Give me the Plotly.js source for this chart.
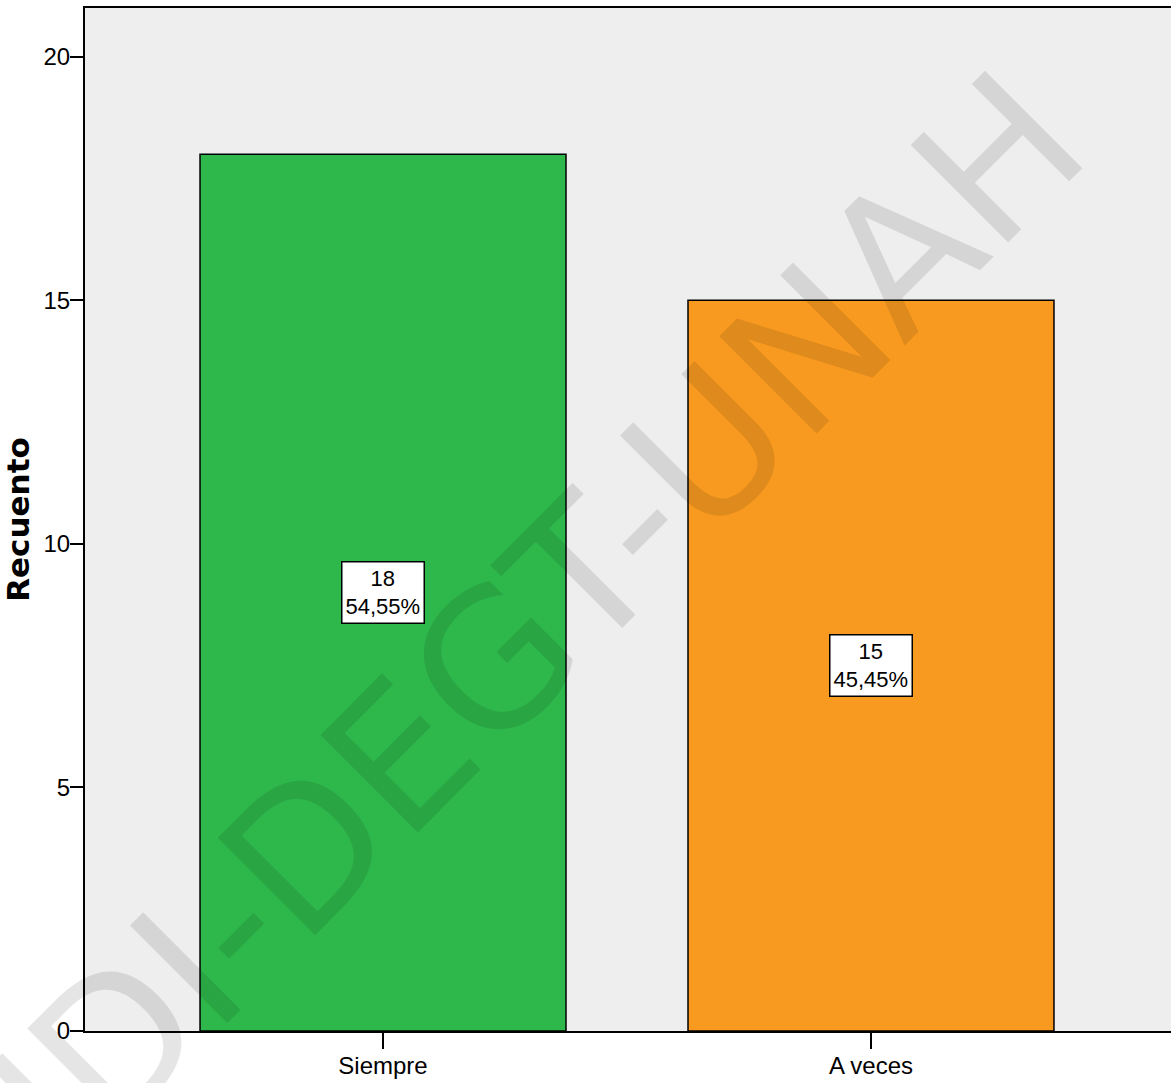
<!DOCTYPE html>
<html>
<head>
<meta charset="utf-8">
<script src="https://cdn.plot.ly/plotly-3.0.1.min.js"></script>
<style>html,body{margin:0;padding:0;background:#fff;}#chart{width:1171px;height:1083px;}</style>
</head>
<body>
<div id="chart"></div>
<script>
const categories = ["Siempre", "A veces"];
const counts = [18, 15];
const percentLabels = ["54,55%", "45,45%"];
const barColors = ["#2eb84b", "#f99a20"];
const yTicks = [0, 5, 10, 15, 20];
const watermarkText = "UDI-DEGT-UNAH";

const narrow = "'Liberation Sans Narrow', 'Arial Narrow', 'Liberation Sans', Arial, sans-serif";

const trace = {
  type: "bar",
  x: categories,
  y: counts,
  marker: { color: barColors, line: { color: "#000", width: 1.5 } },
  hoverinfo: "skip",
  showlegend: false
};

const annotations = categories.map((c, i) => ({
  x: c, y: counts[i] / 2, xref: "x", yref: "y",
  text: counts[i] + "<br>" + percentLabels[i],
  showarrow: false,
  bgcolor: "#ffffff", bordercolor: "#000", borderwidth: 1.5, borderpad: 3,
  font: { family: narrow, size: 22, color: "#000" },
  align: "center"
}));

annotations.push({
  x: 0.39, y: 0.372, xref: "paper", yref: "paper",
  text: watermarkText, showarrow: false, textangle: -45,
  xanchor: "center", yanchor: "middle",
  font: { family: "DejaVu Sans", size: 189, color: "rgba(0,0,0,0.1)" }
});

const layout = {
  width: 1171, height: 1083,
  margin: { l: 85, r: 0, t: 8, b: 52 },
  paper_bgcolor: "#ffffff",
  plot_bgcolor: "#eeeeee",
  bargap: 0.25,
  xaxis: {
    type: "category",
    range: [-0.6107, 1.6148],
    showline: true, linecolor: "#000", linewidth: 2, mirror: true,
    ticks: "outside", ticklen: 16, tickwidth: 2, tickcolor: "#000",
    ticklabelstandoff: -4,
    showgrid: false, zeroline: false,
    tickfont: { family: narrow, size: 24, color: "#000" }
  },
  yaxis: {
    range: [0, 21],
    tickvals: yTicks,
    showline: true, linecolor: "#000", linewidth: 2,
    ticks: "outside", ticklen: 13, tickwidth: 2, tickcolor: "#000",
    ticklabelstandoff: -5,
    showgrid: false, zeroline: false,
    tickfont: { family: narrow, size: 24, color: "#000" },
    title: { text: "Recuento", standoff: 8, font: { family: "DejaVu Sans", size: 31, color: "#000", weight: "bold" } }
  },
  annotations: annotations
};

Plotly.newPlot("chart", [trace], layout, { displayModeBar: false, staticPlot: true });
</script>
</body>
</html>
